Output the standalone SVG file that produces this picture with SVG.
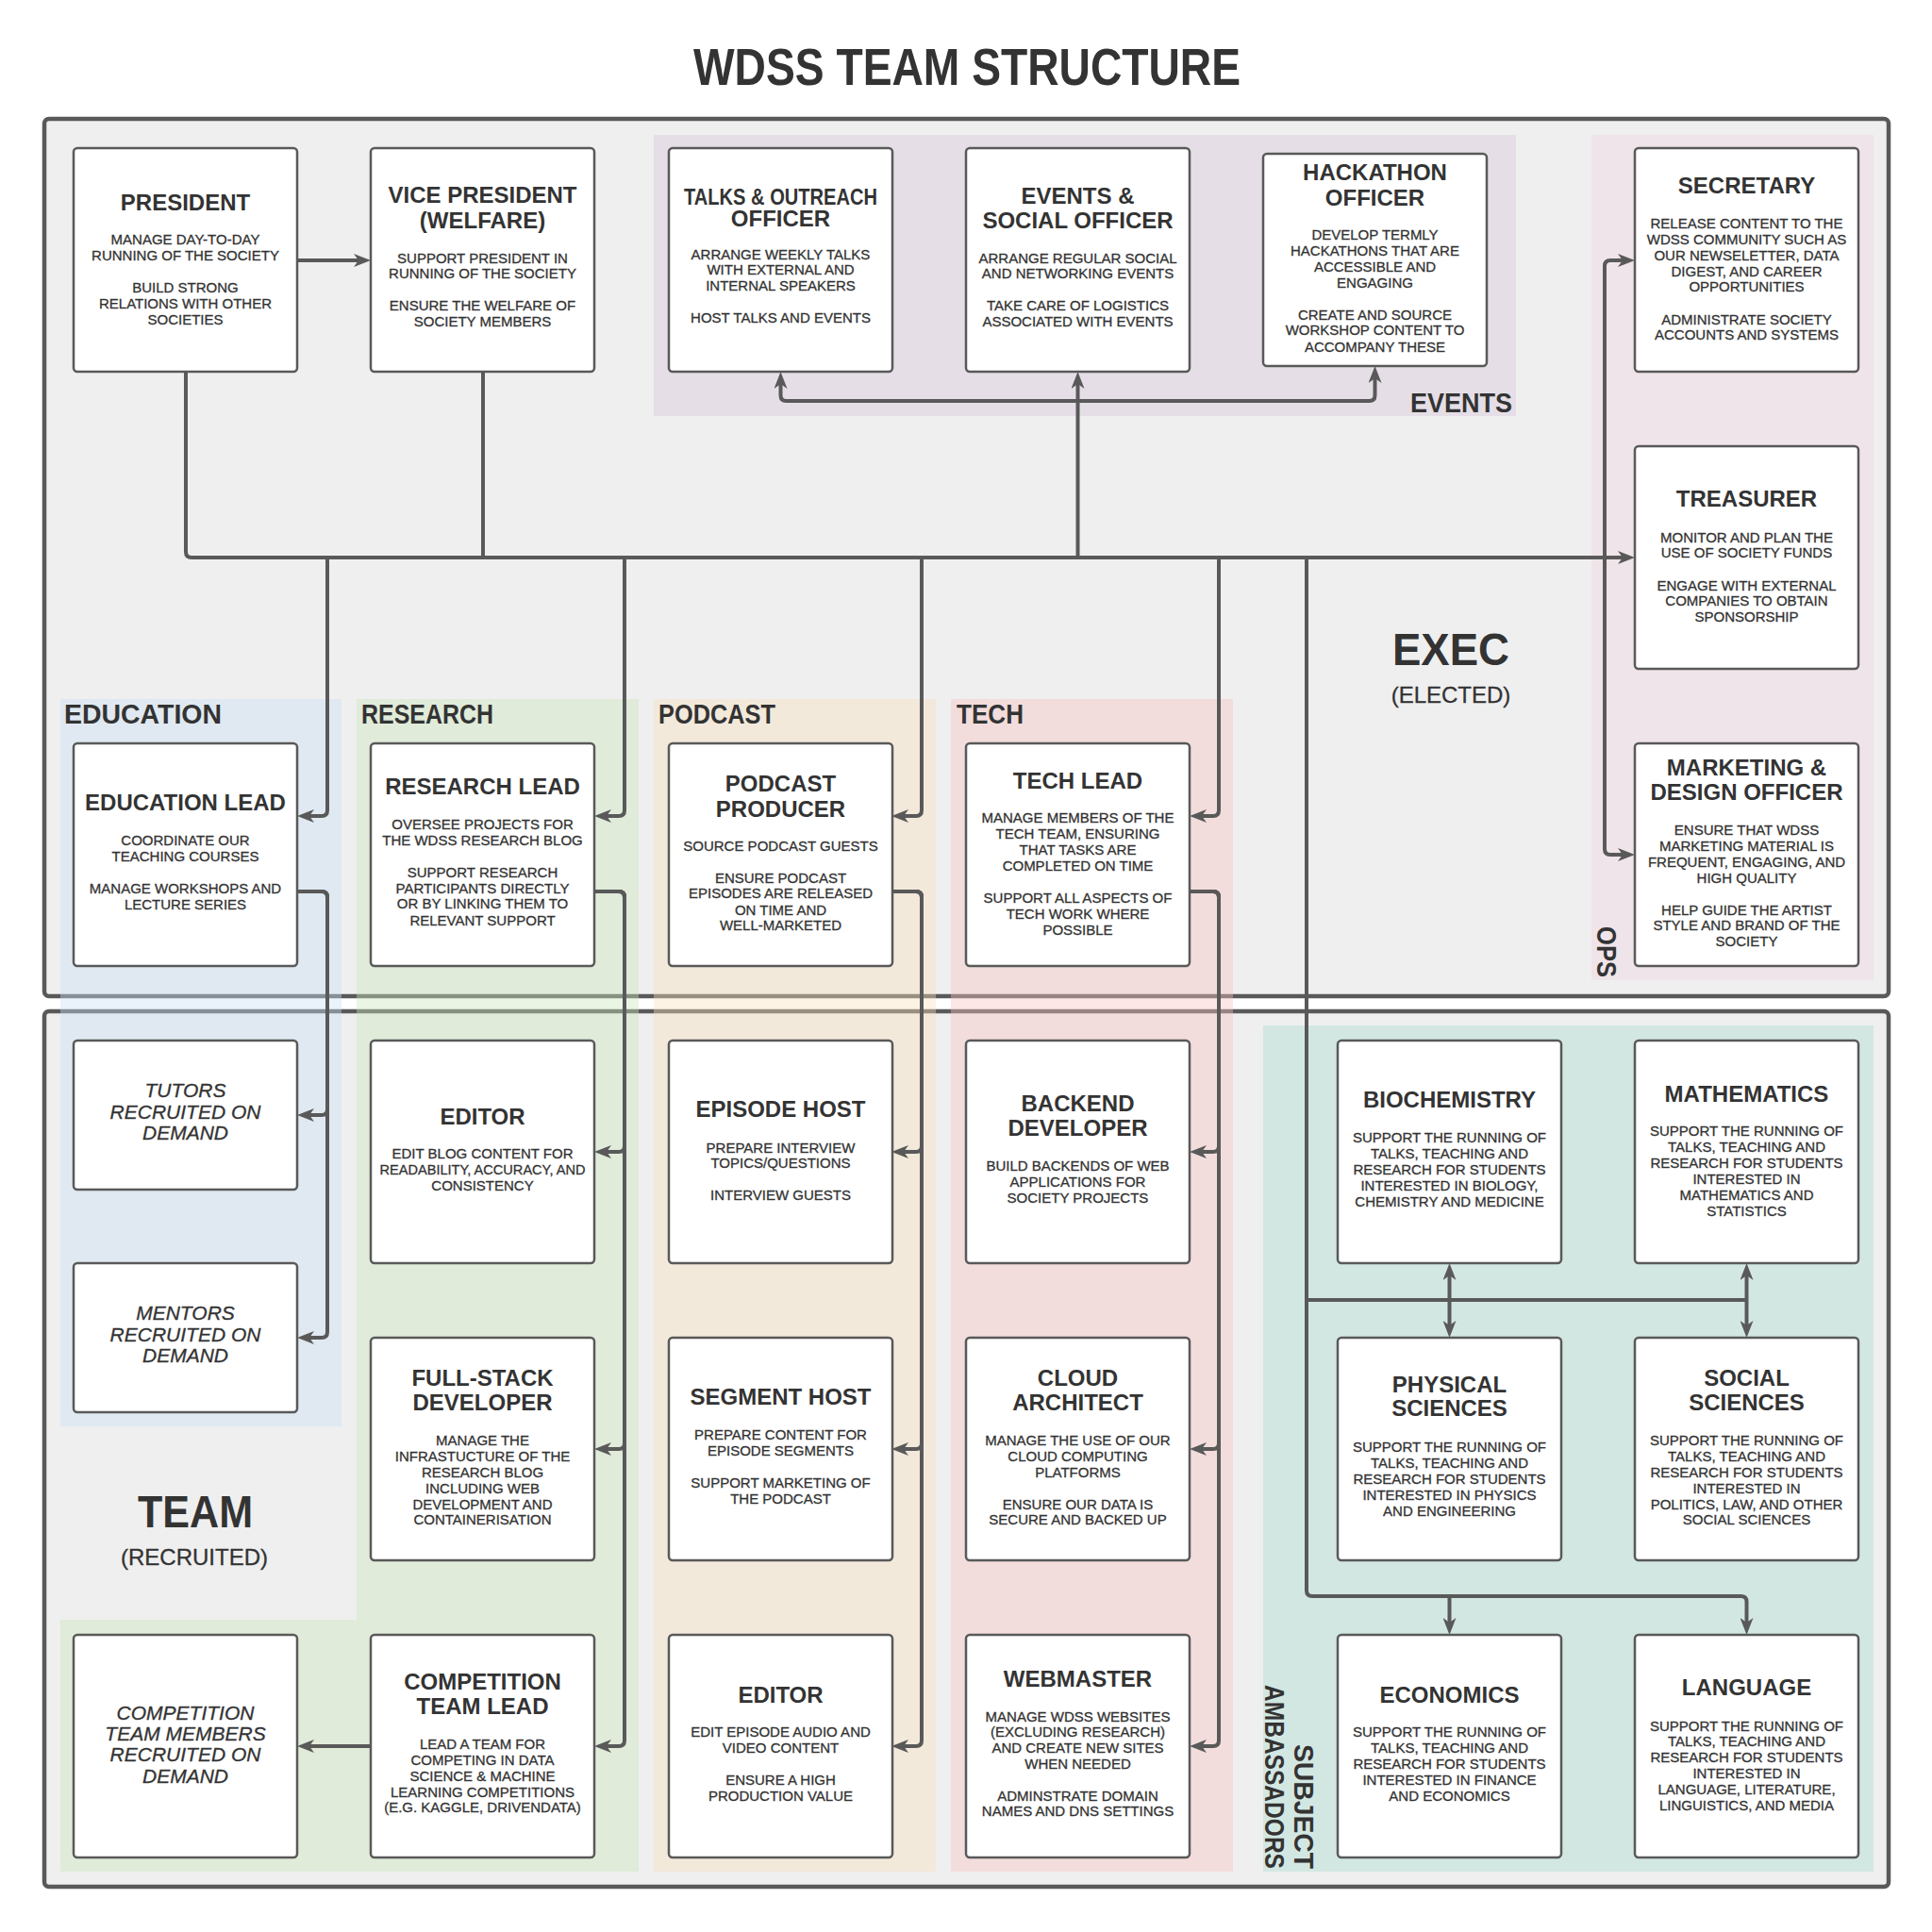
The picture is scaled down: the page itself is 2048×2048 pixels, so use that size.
<svg xmlns="http://www.w3.org/2000/svg" width="2048" height="2048" viewBox="0 0 2048 2048">
<style>
.frame{fill:#efefef;stroke:#595959;stroke-width:4.5}
.reg{opacity:0.4}
.node rect{fill:#ffffff;stroke:#595959;stroke-width:2.5}
text{font-family:"Liberation Sans",Arial,sans-serif;fill:#333333}
.t{font-weight:bold;font-size:24px;text-anchor:middle}
.b{font-size:15px;text-anchor:middle;stroke:#333333;stroke-width:0.3}
.i{font-style:italic;font-size:21px;text-anchor:middle;stroke:#333333;stroke-width:0.3}
.lbl{font-weight:bold;font-size:29px}
.big{font-weight:bold;font-size:48px;text-anchor:middle}
.sub{font-size:24px;text-anchor:middle;stroke:#333333;stroke-width:0.3}
.conn path{fill:none;stroke:#595959;stroke-width:4;stroke-linejoin:round}
.conn path.a{marker-end:url(#arr)}
</style>
<defs>
<marker id="arr" viewBox="0 0 18 14" refX="5" refY="7" markerWidth="18" markerHeight="14" markerUnits="userSpaceOnUse" orient="auto">
<path d="M0,0 L18,7 L0,14 L5,7 Z" fill="#595959"/>
</marker>
</defs>
<rect width="2048" height="2048" fill="#ffffff"/>
<text x="1025" y="90" font-size="56" font-weight="bold" text-anchor="middle" textLength="580" lengthAdjust="spacingAndGlyphs">WDSS TEAM STRUCTURE</text>

<g id="frames">
<rect class="frame" x="47" y="126" width="1955" height="930" rx="5"/>
<rect class="frame" x="47" y="1072" width="1955" height="928" rx="5"/>
</g>

<g id="regions">
<rect class="reg" x="693" y="143" width="914" height="298" fill="#d7c5d9"/>
<rect class="reg" x="1687" y="143" width="299" height="896" fill="#f0d5e1"/>
<rect class="reg" x="64" y="741" width="298" height="771" fill="#cae1f5"/>
<path class="reg" d="M378,741 H677 V1984 H64 V1717 H378 Z" fill="#cae6bb"/>
<rect class="reg" x="693" y="741" width="299" height="1243" fill="#f7e1be"/>
<rect class="reg" x="1008" y="741" width="299" height="1243" fill="#f7c3c0"/>
<rect class="reg" x="1339" y="1087" width="647" height="897" fill="#aadccf"/>
</g>

<g id="labels">
<text class="lbl" x="1603" y="437" text-anchor="end" textLength="108" lengthAdjust="spacingAndGlyphs">EVENTS</text>
<text class="lbl" transform="translate(1693,1036) rotate(90)" text-anchor="end" textLength="54" lengthAdjust="spacingAndGlyphs">OPS</text>
<text class="lbl" x="68" y="767" textLength="167" lengthAdjust="spacingAndGlyphs">EDUCATION</text>
<text class="lbl" x="383" y="767" textLength="140" lengthAdjust="spacingAndGlyphs">RESEARCH</text>
<text class="lbl" x="698" y="767" textLength="124" lengthAdjust="spacingAndGlyphs">PODCAST</text>
<text class="lbl" x="1014" y="767" textLength="71" lengthAdjust="spacingAndGlyphs">TECH</text>
<text class="lbl" transform="translate(1372,1981) rotate(90)" text-anchor="end" textLength="132" lengthAdjust="spacingAndGlyphs">SUBJECT</text>
<text class="lbl" transform="translate(1341,1981) rotate(90)" text-anchor="end" textLength="195" lengthAdjust="spacingAndGlyphs">AMBASSADORS</text>
<text class="big" x="1538" y="705" textLength="124" lengthAdjust="spacingAndGlyphs">EXEC</text>
<text class="sub" x="1538" y="745">(ELECTED)</text>
<text class="big" x="207" y="1619" textLength="122" lengthAdjust="spacingAndGlyphs">TEAM</text>
<text class="sub" x="206" y="1659">(RECRUITED)</text>
</g>

<g class="conn" id="connectors">
<path class="a" d="M315,276 H380"/>
<path class="a" d="M197,394 V585 Q197,591 203,591 H1720"/>
<path d="M512,394 V591"/>
<path class="a" d="M1142.5,591 V407"/>
<path class="a" d="M1142.5,425 H833.5 Q827.5,425 827.5,419 V407"/>
<path class="a" d="M1142.5,425 H1451.5 Q1457.5,425 1457.5,419 V401"/>
<path class="a" d="M1701,591 V282 Q1701,276 1707,276 H1720"/>
<path class="a" d="M1701,591 V900 Q1701,906 1707,906 H1720"/>
<path class="a" d="M347,591 V859 Q347,865 341,865 H328"/>
<path class="a" d="M662,591 V859 Q662,865 656,865 H643"/>
<path class="a" d="M977,591 V859 Q977,865 971,865 H958"/>
<path class="a" d="M1292,591 V859 Q1292,865 1286,865 H1274"/>
<path class="a" d="M315,945 H341 Q347,945 347,951 V1176 Q347,1182 341,1182 H328"/>
<path class="a" d="M315,945 H341 Q347,945 347,951 V1412 Q347,1418 341,1418 H328"/>
<path class="a" d="M630,945 H656 Q662,945 662,951 V1215 Q662,1221 656,1221 H643"/>
<path class="a" d="M630,945 H656 Q662,945 662,951 V1530 Q662,1536 656,1536 H643"/>
<path class="a" d="M630,945 H656 Q662,945 662,951 V1845 Q662,1851 656,1851 H643"/>
<path class="a" d="M945,945 H971 Q977,945 977,951 V1215 Q977,1221 971,1221 H958"/>
<path class="a" d="M945,945 H971 Q977,945 977,951 V1530 Q977,1536 971,1536 H958"/>
<path class="a" d="M945,945 H971 Q977,945 977,951 V1845 Q977,1851 971,1851 H958"/>
<path class="a" d="M1261,945 H1286 Q1292,945 1292,951 V1215 Q1292,1221 1286,1221 H1274"/>
<path class="a" d="M1261,945 H1286 Q1292,945 1292,951 V1530 Q1292,1536 1286,1536 H1274"/>
<path class="a" d="M1261,945 H1286 Q1292,945 1292,951 V1845 Q1292,1851 1286,1851 H1274"/>
<path class="a" d="M393,1851 H328"/>
<path class="a" d="M1385,591 V1686 Q1385,1692 1391,1692 H1845.5 Q1851.5,1692 1851.5,1698 V1720"/>
<path class="a" d="M1536.5,1692 V1720"/>
<path d="M1385,1378 H1851.5"/>
<path class="a" d="M1536.5,1378 V1352"/>
<path class="a" d="M1536.5,1378 V1405"/>
<path class="a" d="M1851.5,1378 V1352"/>
<path class="a" d="M1851.5,1378 V1405"/>
</g>

<g id="president" class="node"><rect x="78" y="157" width="237" height="237" rx="4"/>
<text class="t" x="196.5" y="223">PRESIDENT</text>
<text class="b"><tspan x="196.5" y="259">MANAGE DAY-TO-DAY</tspan><tspan x="196.5" y="276">RUNNING OF THE SOCIETY</tspan><tspan x="196.5" y="310">BUILD STRONG</tspan><tspan x="196.5" y="327">RELATIONS WITH OTHER</tspan><tspan x="196.5" y="344">SOCIETIES</tspan></text></g>

<g id="vice-president" class="node"><rect x="393" y="157" width="237" height="237" rx="4"/>
<text class="t"><tspan x="511.5" y="215">VICE PRESIDENT</tspan><tspan x="511.5" y="242">(WELFARE)</tspan></text>
<text class="b"><tspan x="511.5" y="279">SUPPORT PRESIDENT IN</tspan><tspan x="511.5" y="295">RUNNING OF THE SOCIETY</tspan><tspan x="511.5" y="329">ENSURE THE WELFARE OF</tspan><tspan x="511.5" y="346">SOCIETY MEMBERS</tspan></text></g>

<g id="talks-outreach" class="node"><rect x="709" y="157" width="237" height="237" rx="4"/>
<text class="t" font-size="22" x="827.5" y="217" textLength="205" lengthAdjust="spacingAndGlyphs">TALKS &amp; OUTREACH</text>
<text class="t" font-size="22" x="827.5" y="240">OFFICER</text>
<text class="b"><tspan x="827.5" y="275">ARRANGE WEEKLY TALKS</tspan><tspan x="827.5" y="291">WITH EXTERNAL AND</tspan><tspan x="827.5" y="308">INTERNAL SPEAKERS</tspan><tspan x="827.5" y="342">HOST TALKS AND EVENTS</tspan></text></g>

<g id="events-social" class="node"><rect x="1024" y="157" width="237" height="237" rx="4"/>
<text class="t"><tspan x="1142.5" y="216">EVENTS &amp;</tspan><tspan x="1142.5" y="242">SOCIAL OFFICER</tspan></text>
<text class="b"><tspan x="1142.5" y="279">ARRANGE REGULAR SOCIAL</tspan><tspan x="1142.5" y="295">AND NETWORKING EVENTS</tspan><tspan x="1142.5" y="329">TAKE CARE OF LOGISTICS</tspan><tspan x="1142.5" y="346">ASSOCIATED WITH EVENTS</tspan></text></g>

<g id="hackathon" class="node"><rect x="1339" y="163" width="237" height="225" rx="4"/>
<text class="t"><tspan x="1457.5" y="191">HACKATHON</tspan><tspan x="1457.5" y="218">OFFICER</tspan></text>
<text class="b"><tspan x="1457.5" y="254">DEVELOP TERMLY</tspan><tspan x="1457.5" y="271">HACKATHONS THAT ARE</tspan><tspan x="1457.5" y="288">ACCESSIBLE AND</tspan><tspan x="1457.5" y="305">ENGAGING</tspan><tspan x="1457.5" y="339">CREATE AND SOURCE</tspan><tspan x="1457.5" y="355">WORKSHOP CONTENT TO</tspan><tspan x="1457.5" y="373">ACCOMPANY THESE</tspan></text></g>

<g id="secretary" class="node"><rect x="1733" y="157" width="237" height="237" rx="4"/>
<text class="t" x="1851.5" y="205">SECRETARY</text>
<text class="b"><tspan x="1851.5" y="242">RELEASE CONTENT TO THE</tspan><tspan x="1851.5" y="259">WDSS COMMUNITY SUCH AS</tspan><tspan x="1851.5" y="276">OUR NEWSELETTER, DATA</tspan><tspan x="1851.5" y="293">DIGEST, AND CAREER</tspan><tspan x="1851.5" y="309">OPPORTUNITIES</tspan><tspan x="1851.5" y="344">ADMINISTRATE SOCIETY</tspan><tspan x="1851.5" y="360">ACCOUNTS AND SYSTEMS</tspan></text></g>

<g id="treasurer" class="node"><rect x="1733" y="473" width="237" height="236" rx="4"/>
<text class="t" x="1851.5" y="537">TREASURER</text>
<text class="b"><tspan x="1851.5" y="575">MONITOR AND PLAN THE</tspan><tspan x="1851.5" y="591">USE OF SOCIETY FUNDS</tspan><tspan x="1851.5" y="626">ENGAGE WITH EXTERNAL</tspan><tspan x="1851.5" y="642">COMPANIES TO OBTAIN</tspan><tspan x="1851.5" y="659">SPONSORSHIP</tspan></text></g>

<g id="marketing" class="node"><rect x="1733" y="788" width="237" height="236" rx="4"/>
<text class="t"><tspan x="1851.5" y="822">MARKETING &amp;</tspan><tspan x="1851.5" y="848">DESIGN OFFICER</tspan></text>
<text class="b"><tspan x="1851.5" y="885">ENSURE THAT WDSS</tspan><tspan x="1851.5" y="902">MARKETING MATERIAL IS</tspan><tspan x="1851.5" y="919">FREQUENT, ENGAGING, AND</tspan><tspan x="1851.5" y="936">HIGH QUALITY</tspan><tspan x="1851.5" y="970">HELP GUIDE THE ARTIST</tspan><tspan x="1851.5" y="986">STYLE AND BRAND OF THE</tspan><tspan x="1851.5" y="1003">SOCIETY</tspan></text></g>

<g id="education-lead" class="node"><rect x="78" y="788" width="237" height="236" rx="4"/>
<text class="t" x="196.5" y="859">EDUCATION LEAD</text>
<text class="b"><tspan x="196.5" y="896">COORDINATE OUR</tspan><tspan x="196.5" y="913">TEACHING COURSES</tspan><tspan x="196.5" y="947">MANAGE WORKSHOPS AND</tspan><tspan x="196.5" y="964">LECTURE SERIES</tspan></text></g>

<g id="research-lead" class="node"><rect x="393" y="788" width="237" height="236" rx="4"/>
<text class="t" x="511.5" y="842">RESEARCH LEAD</text>
<text class="b"><tspan x="511.5" y="879">OVERSEE PROJECTS FOR</tspan><tspan x="511.5" y="896">THE WDSS RESEARCH BLOG</tspan><tspan x="511.5" y="930">SUPPORT RESEARCH</tspan><tspan x="511.5" y="947">PARTICIPANTS DIRECTLY</tspan><tspan x="511.5" y="963">OR BY LINKING THEM TO</tspan><tspan x="511.5" y="981">RELEVANT SUPPORT</tspan></text></g>

<g id="podcast-producer" class="node"><rect x="709" y="788" width="237" height="236" rx="4"/>
<text class="t"><tspan x="827.5" y="839">PODCAST</tspan><tspan x="827.5" y="866">PRODUCER</tspan></text>
<text class="b"><tspan x="827.5" y="902">SOURCE PODCAST GUESTS</tspan><tspan x="827.5" y="936">ENSURE PODCAST</tspan><tspan x="827.5" y="952">EPISODES ARE RELEASED</tspan><tspan x="827.5" y="970">ON TIME AND</tspan><tspan x="827.5" y="986">WELL-MARKETED</tspan></text></g>

<g id="tech-lead" class="node"><rect x="1024" y="788" width="237" height="236" rx="4"/>
<text class="t" x="1142.5" y="836">TECH LEAD</text>
<text class="b"><tspan x="1142.5" y="872">MANAGE MEMBERS OF THE</tspan><tspan x="1142.5" y="889">TECH TEAM, ENSURING</tspan><tspan x="1142.5" y="906">THAT TASKS ARE</tspan><tspan x="1142.5" y="923">COMPLETED ON TIME</tspan><tspan x="1142.5" y="957">SUPPORT ALL ASPECTS OF</tspan><tspan x="1142.5" y="974">TECH WORK WHERE</tspan><tspan x="1142.5" y="991">POSSIBLE</tspan></text></g>

<g id="tutors" class="node"><rect x="78" y="1103" width="237" height="158" rx="4"/>
<text class="i"><tspan x="196.5" y="1163">TUTORS</tspan><tspan x="196.5" y="1186">RECRUITED ON</tspan><tspan x="196.5" y="1208">DEMAND</tspan></text></g>

<g id="mentors" class="node"><rect x="78" y="1339" width="237" height="158" rx="4"/>
<text class="i"><tspan x="196.5" y="1399">MENTORS</tspan><tspan x="196.5" y="1422">RECRUITED ON</tspan><tspan x="196.5" y="1444">DEMAND</tspan></text></g>

<g id="research-editor" class="node"><rect x="393" y="1103" width="237" height="236" rx="4"/>
<text class="t" x="511.5" y="1192">EDITOR</text>
<text class="b"><tspan x="511.5" y="1228">EDIT BLOG CONTENT FOR</tspan><tspan x="511.5" y="1245" textLength="218" lengthAdjust="spacingAndGlyphs">READABILITY, ACCURACY, AND</tspan><tspan x="511.5" y="1262">CONSISTENCY</tspan></text></g>

<g id="fullstack" class="node"><rect x="393" y="1418" width="237" height="236" rx="4"/>
<text class="t"><tspan x="511.5" y="1469">FULL-STACK</tspan><tspan x="511.5" y="1495">DEVELOPER</tspan></text>
<text class="b"><tspan x="511.5" y="1532">MANAGE THE</tspan><tspan x="511.5" y="1549">INFRASTUCTURE OF THE</tspan><tspan x="511.5" y="1566">RESEARCH BLOG</tspan><tspan x="511.5" y="1583">INCLUDING WEB</tspan><tspan x="511.5" y="1600">DEVELOPMENT AND</tspan><tspan x="511.5" y="1616">CONTAINERISATION</tspan></text></g>

<g id="competition-lead" class="node"><rect x="393" y="1733" width="237" height="236" rx="4"/>
<text class="t"><tspan x="511.5" y="1791">COMPETITION</tspan><tspan x="511.5" y="1817">TEAM LEAD</tspan></text>
<text class="b"><tspan x="511.5" y="1854">LEAD A TEAM FOR</tspan><tspan x="511.5" y="1871">COMPETING IN DATA</tspan><tspan x="511.5" y="1888">SCIENCE &amp; MACHINE</tspan><tspan x="511.5" y="1905">LEARNING COMPETITIONS</tspan><tspan x="511.5" y="1921">(E.G. KAGGLE, DRIVENDATA)</tspan></text></g>

<g id="competition-members" class="node"><rect x="78" y="1733" width="237" height="236" rx="4"/>
<text class="i"><tspan x="196.5" y="1823">COMPETITION</tspan><tspan x="196.5" y="1845">TEAM MEMBERS</tspan><tspan x="196.5" y="1867">RECRUITED ON</tspan><tspan x="196.5" y="1890">DEMAND</tspan></text></g>

<g id="episode-host" class="node"><rect x="709" y="1103" width="237" height="236" rx="4"/>
<text class="t" x="827.5" y="1184">EPISODE HOST</text>
<text class="b"><tspan x="827.5" y="1222">PREPARE INTERVIEW</tspan><tspan x="827.5" y="1238">TOPICS/QUESTIONS</tspan><tspan x="827.5" y="1272">INTERVIEW GUESTS</tspan></text></g>

<g id="segment-host" class="node"><rect x="709" y="1418" width="237" height="236" rx="4"/>
<text class="t" x="827.5" y="1489">SEGMENT HOST</text>
<text class="b"><tspan x="827.5" y="1526">PREPARE CONTENT FOR</tspan><tspan x="827.5" y="1543">EPISODE SEGMENTS</tspan><tspan x="827.5" y="1577">SUPPORT MARKETING OF</tspan><tspan x="827.5" y="1594">THE PODCAST</tspan></text></g>

<g id="podcast-editor" class="node"><rect x="709" y="1733" width="237" height="236" rx="4"/>
<text class="t" x="827.5" y="1805">EDITOR</text>
<text class="b"><tspan x="827.5" y="1841">EDIT EPISODE AUDIO AND</tspan><tspan x="827.5" y="1858">VIDEO CONTENT</tspan><tspan x="827.5" y="1892">ENSURE A HIGH</tspan><tspan x="827.5" y="1909">PRODUCTION VALUE</tspan></text></g>

<g id="backend" class="node"><rect x="1024" y="1103" width="237" height="236" rx="4"/>
<text class="t"><tspan x="1142.5" y="1178">BACKEND</tspan><tspan x="1142.5" y="1204">DEVELOPER</tspan></text>
<text class="b"><tspan x="1142.5" y="1241">BUILD BACKENDS OF WEB</tspan><tspan x="1142.5" y="1258">APPLICATIONS FOR</tspan><tspan x="1142.5" y="1275">SOCIETY PROJECTS</tspan></text></g>

<g id="cloud" class="node"><rect x="1024" y="1418" width="237" height="236" rx="4"/>
<text class="t"><tspan x="1142.5" y="1469">CLOUD</tspan><tspan x="1142.5" y="1495">ARCHITECT</tspan></text>
<text class="b"><tspan x="1142.5" y="1532">MANAGE THE USE OF OUR</tspan><tspan x="1142.5" y="1549">CLOUD COMPUTING</tspan><tspan x="1142.5" y="1566">PLATFORMS</tspan><tspan x="1142.5" y="1600">ENSURE OUR DATA IS</tspan><tspan x="1142.5" y="1616">SECURE AND BACKED UP</tspan></text></g>

<g id="webmaster" class="node"><rect x="1024" y="1733" width="237" height="236" rx="4"/>
<text class="t" x="1142.5" y="1788">WEBMASTER</text>
<text class="b"><tspan x="1142.5" y="1825">MANAGE WDSS WEBSITES</tspan><tspan x="1142.5" y="1841">(EXCLUDING RESEARCH)</tspan><tspan x="1142.5" y="1858">AND CREATE NEW SITES</tspan><tspan x="1142.5" y="1875">WHEN NEEDED</tspan><tspan x="1142.5" y="1909">ADMINSTRATE DOMAIN</tspan><tspan x="1142.5" y="1925">NAMES AND DNS SETTINGS</tspan></text></g>

<g id="biochemistry" class="node"><rect x="1418" y="1103" width="237" height="236" rx="4"/>
<text class="t" x="1536.5" y="1174">BIOCHEMISTRY</text>
<text class="b"><tspan x="1536.5" y="1211">SUPPORT THE RUNNING OF</tspan><tspan x="1536.5" y="1228">TALKS, TEACHING AND</tspan><tspan x="1536.5" y="1245">RESEARCH FOR STUDENTS</tspan><tspan x="1536.5" y="1262">INTERESTED IN BIOLOGY,</tspan><tspan x="1536.5" y="1279">CHEMISTRY AND MEDICINE</tspan></text></g>

<g id="mathematics" class="node"><rect x="1733" y="1103" width="237" height="236" rx="4"/>
<text class="t" x="1851.5" y="1168">MATHEMATICS</text>
<text class="b"><tspan x="1851.5" y="1204">SUPPORT THE RUNNING OF</tspan><tspan x="1851.5" y="1221">TALKS, TEACHING AND</tspan><tspan x="1851.5" y="1238">RESEARCH FOR STUDENTS</tspan><tspan x="1851.5" y="1255">INTERESTED IN</tspan><tspan x="1851.5" y="1272">MATHEMATICS AND</tspan><tspan x="1851.5" y="1289">STATISTICS</tspan></text></g>

<g id="physical-sciences" class="node"><rect x="1418" y="1418" width="237" height="236" rx="4"/>
<text class="t"><tspan x="1536.5" y="1476">PHYSICAL</tspan><tspan x="1536.5" y="1501">SCIENCES</tspan></text>
<text class="b"><tspan x="1536.5" y="1539">SUPPORT THE RUNNING OF</tspan><tspan x="1536.5" y="1556">TALKS, TEACHING AND</tspan><tspan x="1536.5" y="1573">RESEARCH FOR STUDENTS</tspan><tspan x="1536.5" y="1590">INTERESTED IN PHYSICS</tspan><tspan x="1536.5" y="1607">AND ENGINEERING</tspan></text></g>

<g id="social-sciences" class="node"><rect x="1733" y="1418" width="237" height="236" rx="4"/>
<text class="t"><tspan x="1851.5" y="1469">SOCIAL</tspan><tspan x="1851.5" y="1495">SCIENCES</tspan></text>
<text class="b"><tspan x="1851.5" y="1532">SUPPORT THE RUNNING OF</tspan><tspan x="1851.5" y="1549">TALKS, TEACHING AND</tspan><tspan x="1851.5" y="1566">RESEARCH FOR STUDENTS</tspan><tspan x="1851.5" y="1583">INTERESTED IN</tspan><tspan x="1851.5" y="1600">POLITICS, LAW, AND OTHER</tspan><tspan x="1851.5" y="1616">SOCIAL SCIENCES</tspan></text></g>

<g id="economics" class="node"><rect x="1418" y="1733" width="237" height="236" rx="4"/>
<text class="t" x="1536.5" y="1805">ECONOMICS</text>
<text class="b"><tspan x="1536.5" y="1841">SUPPORT THE RUNNING OF</tspan><tspan x="1536.5" y="1858">TALKS, TEACHING AND</tspan><tspan x="1536.5" y="1875">RESEARCH FOR STUDENTS</tspan><tspan x="1536.5" y="1892">INTERESTED IN FINANCE</tspan><tspan x="1536.5" y="1909">AND ECONOMICS</tspan></text></g>

<g id="language" class="node"><rect x="1733" y="1733" width="237" height="236" rx="4"/>
<text class="t" x="1851.5" y="1797">LANGUAGE</text>
<text class="b"><tspan x="1851.5" y="1835">SUPPORT THE RUNNING OF</tspan><tspan x="1851.5" y="1851">TALKS, TEACHING AND</tspan><tspan x="1851.5" y="1868">RESEARCH FOR STUDENTS</tspan><tspan x="1851.5" y="1885">INTERESTED IN</tspan><tspan x="1851.5" y="1902">LANGUAGE, LITERATURE,</tspan><tspan x="1851.5" y="1919">LINGUISTICS, AND MEDIA</tspan></text></g>
</svg>
